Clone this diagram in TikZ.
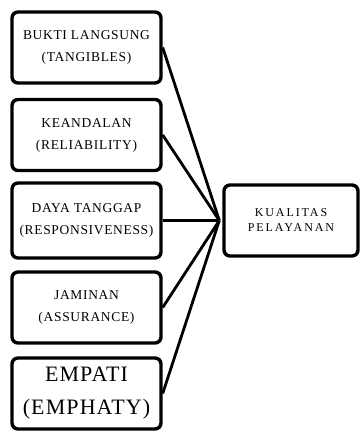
\documentclass[tikz,border=0pt]{standalone}
\usepackage{fontspec}
\setmainfont{Liberation Serif}
\newfontfamily\capfont[LetterSpace=5]{Liberation Serif}
\newfontfamily\widefont[LetterSpace=16]{Liberation Serif}
\usepackage{tikz}
\tikzset{
  dimbox/.style={draw, line width=3.4pt, rounded corners=6pt, minimum width=149pt,
    minimum height=71pt, align=center, inner sep=0pt, font=\capfont\fontsize{13.5}{22}\selectfont},
  link/.style={line width=2.8pt}
}

\begin{document}
\begin{tikzpicture}[x=1pt, y=-1pt]
		%%%%% START %%%%%
		\useasboundingbox (0, 0) rectangle (362, 433);
		
		\node[dimbox] (tangible) at (86.5, 47.5) {BUKTI LANGSUNG\\(TANGIBLES)};
		\node[dimbox] (reliable) at (86.5, 135) {KEANDALAN\\(RELIABILITY)};
		\node[dimbox, minimum height=75pt] (respon) at (86.5, 220.5) {DAYA TANGGAP\\(RESPONSIVENESS)};
		\node[dimbox] (assure) at (86.5, 307.5) {JAMINAN\\(ASSURANCE)};
		\node[dimbox, font=\capfont\fontsize{22}{33}\selectfont] (empathy) at (86.5, 393.5) {EMPATI\\(EMPHATY)};
		
		\node[dimbox, minimum width=134pt, font=\widefont\fontsize{12}{15}\selectfont] (quality) at (291, 220.5) {KUALITAS\\PELAYANAN};
		\coordinate (hub) at ([xshift=-3pt]quality.west);
		
		\draw[link] (tangible.east) -- (hub);
		\draw[link] (reliable.east) -- (hub);
		\draw[link] (respon.east) -- (hub);
		\draw[link] (assure.east) -- (hub);
		\draw[link] (empathy.east) -- (hub);
		
		%%%%% END %%%%%
	\end{tikzpicture}
\end{document}
